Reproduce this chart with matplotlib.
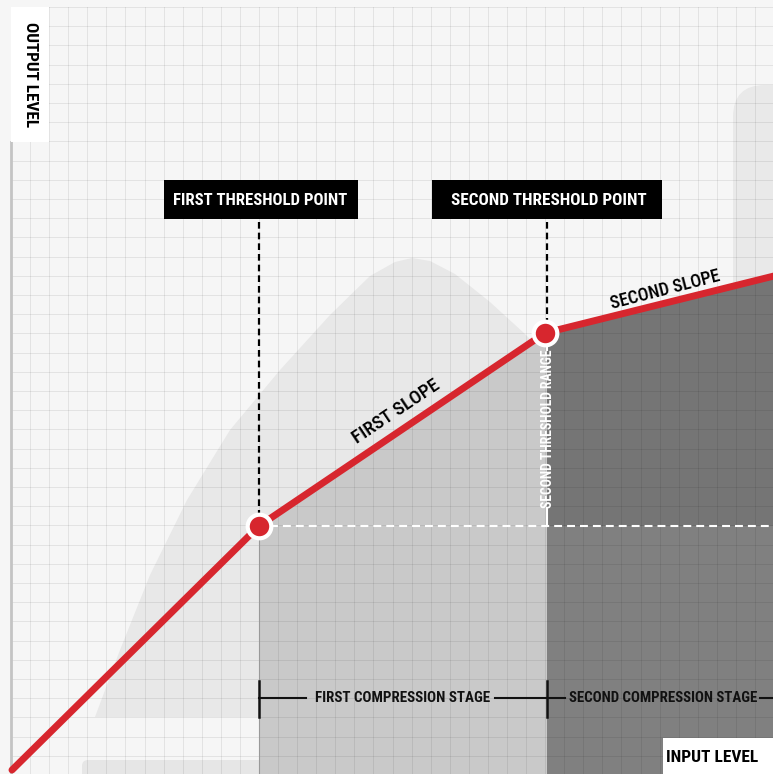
import matplotlib
matplotlib.use("Agg")
import matplotlib.pyplot as plt
import matplotlib.patches as mpatches
from matplotlib import font_manager
import numpy as np

# condensed font if available
names = {f.name for f in font_manager.fontManager.ttflist}
COND = [n for n in ["Roboto Condensed", "DejaVu Sans Condensed", "Liberation Sans Narrow",
                    "Open Sans Condensed", "Noto Sans Display"] if n in names]
plt.rcParams.update({
    "font.family": COND + ["DejaVu Sans"],
    "font.weight": "bold",
    "font.stretch": "condensed",
    "hatch.linewidth": 1.0,
})

# ── Data (input level -> output level, canvas units, y up) ───────────────────
INPUT_LEVEL  = [12, 259, 545, 790]
OUTPUT_LEVEL = [4, 248, 441, 502]
THRESH_IN    = [259, 545]
THRESH_OUT   = [248, 441]

LABEL_FIRST_POINT  = "FIRST THRESHOLD POINT"
LABEL_SECOND_POINT = "SECOND THRESHOLD POINT"
LABEL_FIRST_SLOPE  = "FIRST SLOPE"
LABEL_SECOND_SLOPE = "SECOND SLOPE"
LABEL_RANGE        = "SECOND THRESHOLD RANGE"
STAGE_LABELS       = ["FIRST COMPRESSION STAGE", "SECOND COMPRESSION STAGE"]

# decorative background bell outline
BELL_X = [95, 120, 150, 187, 230, 280, 330, 370, 395, 412, 430, 455, 490, 525, 560]
BELL_Y = [57, 124, 199, 274, 344, 404, 459, 498, 512, 516, 513, 500, 472, 440, 404]

RED   = "#d7262e"
W, H  = 773, 774

fig = plt.figure(figsize=(7.73, 7.74), dpi=100, facecolor="#f6f6f6")
ax = fig.add_axes([0, 0, 1, 1])
ax.set_xlim(0, W)
ax.set_ylim(0, H)
ax.axis("off")

# ── background shapes ────────────────────────────────────────────────────────
bell = np.column_stack([BELL_X + [560, 95], BELL_Y + [57, 57]])
ax.add_patch(mpatches.Polygon(bell, closed=True, fc="#e8e8e8", ec="none", zorder=1))
ax.add_patch(mpatches.FancyBboxPatch((82, -20), 200, 34,
             boxstyle="round,pad=0,rounding_size=6", fc="#e6e6e6", ec="none", zorder=1))
ax.add_patch(mpatches.FancyBboxPatch((733, -60), 200, 749,
             boxstyle="round,pad=0,rounding_size=32", fc="#e9e9e9", ec="none", zorder=1))

# ── compression regions ──────────────────────────────────────────────────────
x1, x2 = THRESH_IN[0], THRESH_IN[1] + 2
y1 = THRESH_OUT[0]
xs = np.array(INPUT_LEVEL, float)
ys = np.array(OUTPUT_LEVEL, float)
y_at_x2 = np.interp(x2, xs, ys)
y_at_W = np.interp(W, xs, ys)

light = [(x1, 0), (x1, y1), (THRESH_IN[1], THRESH_OUT[1]), (x2, y_at_x2), (x2, 0)]
ax.add_patch(mpatches.Polygon(light, closed=True, fc="#c9c9c9", ec="none", zorder=2))
ax.add_patch(mpatches.Rectangle((x2, 0), W - x2, y1, fc="#808080", ec="none", zorder=2))
hatch = [(x2, y1), (x2, y_at_x2), (W, y_at_W), (W, y1)]
ax.add_patch(mpatches.Polygon(hatch, closed=True, fc="#353535", ec="#757575",
                              lw=0, hatch="/" * 22, zorder=2))

# ── grid ─────────────────────────────────────────────────────────────────────
for gx in np.arange(11, W, 248 / 13):
    ax.plot([gx, gx], [0, 767], color="black", alpha=0.08, lw=0.7, zorder=3)
for gy in np.arange(767, 0, -19.2):
    ax.plot([11, W], [gy, gy], color="black", alpha=0.08, lw=0.7, zorder=3)

# axis line + region border
ax.plot([11, 11], [0, 632], color="#c4c4c4", lw=2, zorder=4)
ax.plot([x1, x1], [0, y1], color="#999999", lw=0.8, zorder=4)

# ── guide lines ──────────────────────────────────────────────────────────────
ax.plot([x1, x1], [552, y1], color="black", lw=1.6, ls=(0, (3.0, 1.8)), zorder=5)
ax.plot([x2, x2], [552, THRESH_OUT[1]], color="black", lw=1.6, ls=(0, (3.0, 1.8)), zorder=5)
ax.plot([270, W], [y1, y1], color="white", lw=1.5, ls=(0, (3.8, 2.4)), zorder=5)

# ── compression curve ────────────────────────────────────────────────────────
ax.plot(INPUT_LEVEL, OUTPUT_LEVEL, color=RED, lw=5, solid_capstyle="round", zorder=6)
ax.plot(THRESH_IN, THRESH_OUT, "o", ms=17, mfc=RED, mec="white", mew=3, zorder=7)

renderer = fig.canvas.get_renderer()


def fit(t, target):
    """Scale font so the unrotated text width matches target pixels."""
    rot = t.get_rotation()
    t.set_rotation(0)
    w = t.get_window_extent(renderer).width
    t.set_fontsize(t.get_fontsize() * target / w)
    t.set_rotation(rot)
    return t


# ── labels ───────────────────────────────────────────────────────────────────
ax.add_patch(mpatches.Rectangle((11, 632), 38, 135, fc="white", ec="none", zorder=8))
fit(ax.text(30, 699, "OUTPUT LEVEL", rotation=-90, ha="center", va="center",
            color="black", zorder=9), 105)

ax.add_patch(mpatches.Rectangle((663, 0), 120, 36, fc="white", ec="none", zorder=8))
fit(ax.text(712, 17, "INPUT LEVEL", ha="center", va="center",
            color="black", zorder=9), 92)

ax.add_patch(mpatches.Rectangle((164, 555), 194, 39, fc="black", ec="none", zorder=8))
fit(ax.text(260.5, 573.5, LABEL_FIRST_POINT, ha="center", va="center",
            color="white", zorder=9), 174)
ax.add_patch(mpatches.Rectangle((432, 555), 230, 39, fc="black", ec="none", zorder=8))
fit(ax.text(548.5, 573.5, LABEL_SECOND_POINT, ha="center", va="center",
            color="white", zorder=9), 195)

fit(ax.text(396, 362, LABEL_FIRST_SLOPE, rotation=33.8, rotation_mode="anchor",
            ha="center", va="center", color="black", fontweight="medium", zorder=9), 100)
fit(ax.text(665, 484, LABEL_SECOND_SLOPE, rotation=14.6, rotation_mode="anchor",
            ha="center", va="center", color="black", fontweight="medium", zorder=9), 112)

rng = fit(ax.text(548, 345, LABEL_RANGE, rotation=90, ha="center", va="center",
                  color="white", zorder=9), 158)
ax.plot([x2, x2], [y1, 266], color="white", lw=1.5, zorder=5)
ax.plot([x2, x2], [424, THRESH_OUT[1]], color="white", lw=1.5, zorder=5)

# ── stage bracket ────────────────────────────────────────────────────────────
by = 76
t1 = fit(ax.text(403, by, STAGE_LABELS[0], ha="center", va="center",
                 color="#111111", zorder=9), 175)
t2 = fit(ax.text(663, by, STAGE_LABELS[1], ha="center", va="center",
                 color="#111111", zorder=9), 188)
inv = ax.transData.inverted()
bb1 = t1.get_window_extent(renderer).transformed(inv)
bb2 = t2.get_window_extent(renderer).transformed(inv)
for xa, xb in [(x1, bb1.x0 - 9), (bb1.x1 + 4, x2), (x2, bb2.x0 - 4), (bb2.x1 + 3, W)]:
    ax.plot([xa, xb], [by, by], color="#111111", lw=1.5, zorder=8)
for xt in (x1, x2):
    ax.plot([xt, xt], [by - 19, by + 17], color="#111111", lw=1.8, zorder=8)

fig.savefig("out.png", dpi=100, facecolor=fig.get_facecolor())
